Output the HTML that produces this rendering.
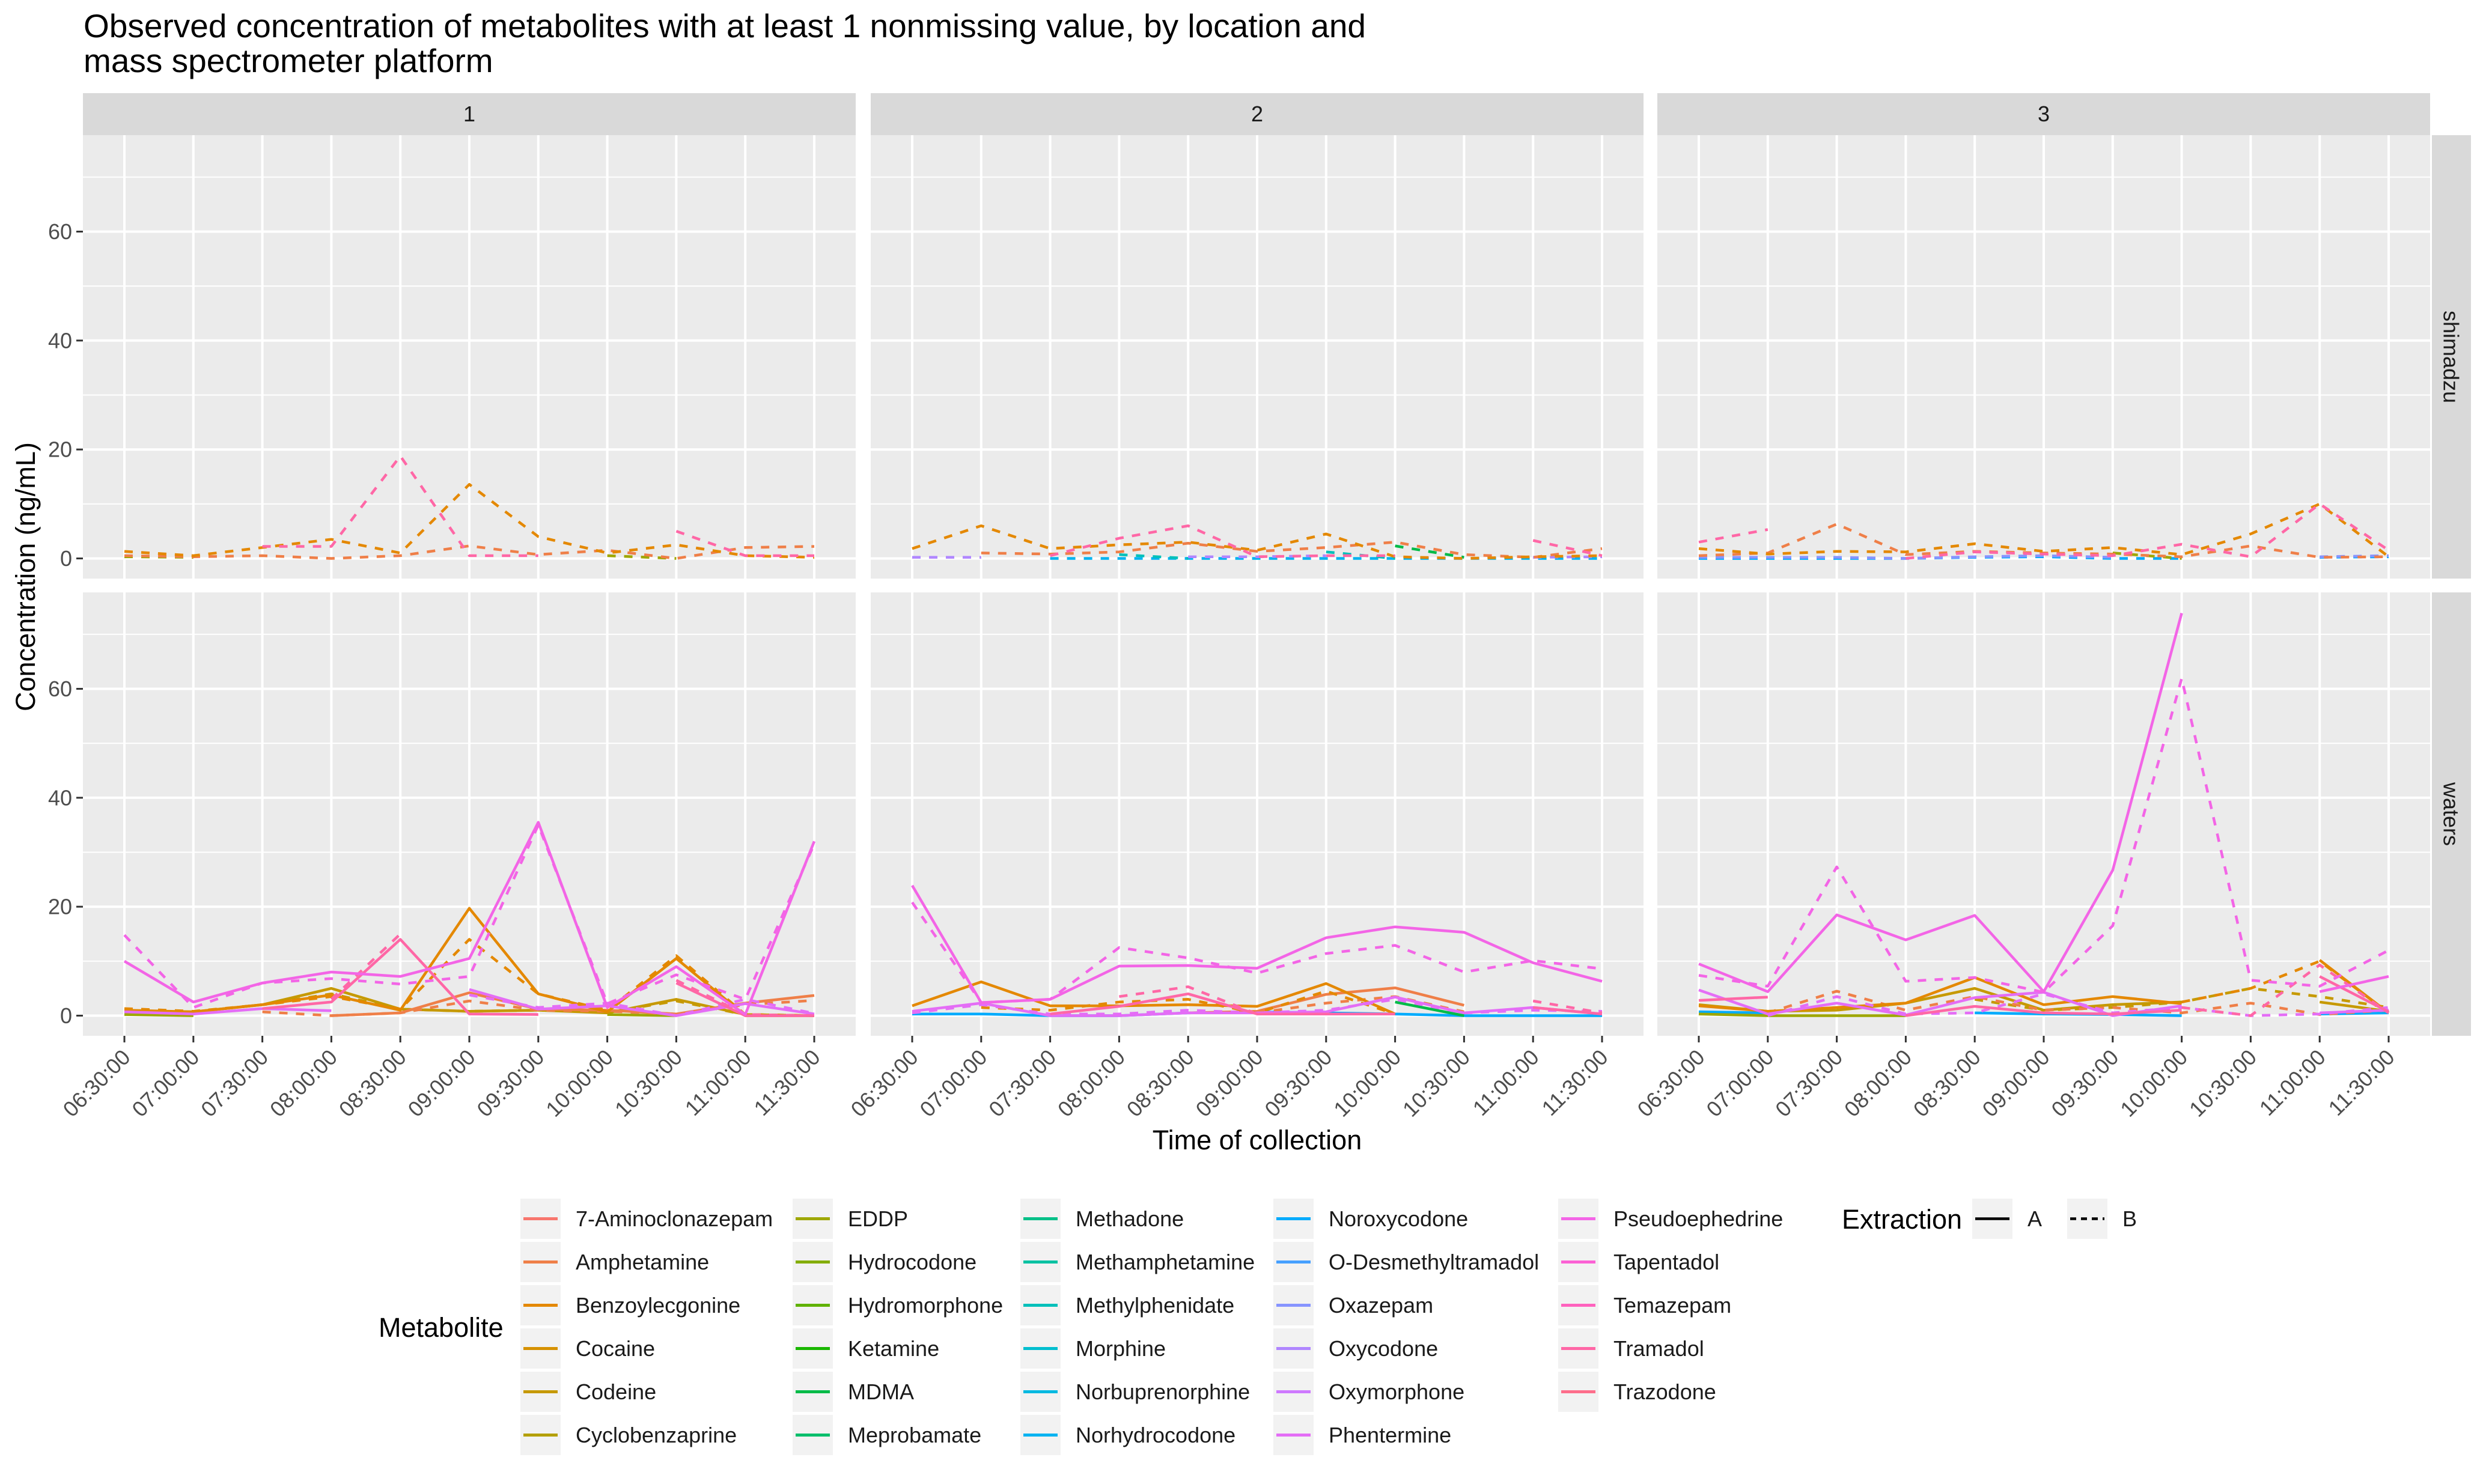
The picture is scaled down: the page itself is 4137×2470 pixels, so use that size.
<!DOCTYPE html>
<html><head><meta charset="utf-8">
<style>
html,body{margin:0;padding:0;background:#fff;}
svg{display:block;font-family:"Liberation Sans",Arial,sans-serif;}
</style></head>
<body>
<svg id="chart" width="4137" height="2470" viewBox="0 0 4137 2470" xmlns="http://www.w3.org/2000/svg">
<text x="139" y="62" font-size="55" fill="#000">Observed concentration of metabolites with at least 1 nonmissing value, by location and</text>
<text x="139" y="120" font-size="55" fill="#000">mass spectrometer platform</text>
<g id="plot"></g>
</svg>
<script>
// ---- categories ----
const times = ["06:30:00","07:00:00","07:30:00","08:00:00","08:30:00","09:00:00","09:30:00","10:00:00","10:30:00","11:00:00","11:30:00"];
const metabolites = ["7-Aminoclonazepam","Amphetamine","Benzoylecgonine","Cocaine","Codeine","Cyclobenzaprine","EDDP","Hydrocodone","Hydromorphone","Ketamine","MDMA","Meprobamate","Methadone","Methamphetamine","Methylphenidate","Morphine","Norbuprenorphine","Norhydrocodone","Noroxycodone","O-Desmethyltramadol","Oxazepam","Oxycodone","Oxymorphone","Phentermine","Pseudoephedrine","Tapentadol","Temazepam","Tramadol","Trazodone"];
const locations = ["1","2","3"];
const platforms = ["shimadzu","waters"];
const yTicks = [0,20,40,60];
const yMinor = [10,30,50,70];

// ---- series values (null = missing) ----
const s1_trama_B = [null,null,2.2,2.2,18.8,0.5,0.5,null,5,0.5,0.5];
const s1_benzo_B = [1.3,0.5,2,3.5,1,13.6,4,1,2.5,0.5,0.2];
const s1_amph_B = [0.5,0.3,0.5,0,0.5,2.3,0.7,1.5,0,2,2.2];
const s1_eddp_B = [0.3,0.2,null,null,null,null,null,0.5,0,null,null];
const w1_pseudo_A = [10,2.5,6,8,7.2,10.5,35.5,1.5,9,0.2,32];
const w1_pseudo_B = [14.8,1.5,6,6.8,5.8,7.2,35,2.2,7.5,3,31.5];
const w1_trama_A = [null,null,1.3,2.5,14,0.3,0.2,null,6,0,0];
const w1_trama_B = [null,null,null,3,15,null,null,null,6.5,0.2,0];
const w1_benzo_A = [1,0.7,2,3.8,1,19.7,4,0.7,10.5,0,0];
const w1_benzo_B = [1.3,0.8,2,3.5,1.2,14,4,1,11,0.2,0];
const w1_cod_A = [0.8,0.7,2,5,1.2,0.8,1,0.5,3,0.2,0];
const w1_cod_B = [0.9,0.7,2,4,1.2,0.8,1,0.6,2.7,0.2,0];
const w1_amph_A = [null,null,null,0,0.5,4.2,1.2,1,0.3,2.3,3.7];
const w1_amph_B = [null,null,0.7,0,0.5,2.7,1,0.8,0.3,2,2.8];
const w1_phent_A = [0.7,0.3,1.3,0.9,null,4.8,1.2,1.8,0,2.2,0.3];
const w1_phent_B = [null,null,null,null,null,3.8,1.5,2.3,0,3,0.4];
const w1_eddp_A = [0.2,0,null,null,null,null,null,0.2,0,null,null];
const s2_benzo_B = [1.8,6,1.8,2.5,3,1.5,4.5,0.3,0,0.3,0.5];
const s2_trama_B = [null,null,0.5,3.7,6,0.3,0.5,0.5,null,3.3,0.5];
const s2_amph_B = [null,1,0.8,1.2,2.8,1.3,2,3,0.7,0.2,1.8];
const s2_mdma_B = [null,null,null,null,null,null,null,2.3,0.2,null,null];
const s2_methyl_B = [null,null,null,0.7,0,null,1.2,0,null,null,null];
const s2_norhy_B = [null,null,0,0,0,0,0,0,0,0,0];
const s2_oxy_B = [0.2,0.2,null,null,0.3,0.3,0.5,null,null,0.2,0.3];
const w2_pseudo_A = [23.9,2.4,3,9.1,9.2,8.7,14.3,16.3,15.3,9.7,6.3];
const w2_pseudo_B = [20.8,2.4,3,12.5,10.6,7.8,11.4,12.9,8,10.1,8.6];
const w2_benzo_A = [1.8,6.2,1.8,1.8,2,1.7,5.9,0.3,null,null,null];
const w2_benzo_B = [null,1.5,1,2.5,3,0.5,4.5,0.3,null,null,null];
const w2_amph_A = [null,null,null,null,0.5,0.8,3.9,5.1,1.9,null,null];
const w2_amph_B = [null,null,null,null,null,0.5,2.3,3.5,0.7,null,2.5];
const w2_trama_A = [0.5,null,0.3,1.7,4,0.3,0.3,0.3,null,1.5,0.3];
const w2_trama_B = [null,null,null,3.5,5.3,0.3,null,null,null,2.7,0.5];
const w2_phent_A = [0.8,2.3,0,0,0.5,0.5,0.7,3.4,0.5,1.5,0.3];
const w2_phent_B = [0.5,2,0.3,0.3,1,0.5,1,3,0.5,1,0.8];
const w2_mdma_A = [null,null,null,null,null,null,null,2.5,0,null,null];
const w2_noroxy_A = [0.3,0.3,0,0,0.5,0.7,0.5,0.3,0,0,0];
const s3_trama_B = [3,5.3,null,0,1.2,0.8,0.5,2.6,0.3,10,1.5];
const s3_amph_B = [0.5,1,6.3,0.7,1.3,1,0.8,0.3,2.3,0.2,0.3];
const s3_benzo_B = [1.8,0.8,1.3,1.2,2.7,1.3,2,0.7,4.5,10,0.3];
const s3_eddp_B = [null,null,null,null,null,null,1,0,null,null,null];
const s3_noroxy_B = [0,0,0,0,0.2,0.3,0,0,null,0.2,0.3];
const s3_oxaz_B = [0.2,0.2,0.2,0,0.3,0.5,0.2,null,null,0.3,0.5];
const w3_pseudo_A = [9.5,4.4,18.5,13.9,18.4,4.4,26.7,73.9,null,4.4,7.2];
const w3_pseudo_B = [7.4,5.4,27.3,6.3,7,4.3,16.5,61.9,6.5,5.4,12];
const w3_benzo_A = [1.8,0.8,1.5,2.3,7,2,3.5,2.2,null,10.2,0.5];
const w3_benzo_B = [null,null,null,null,null,null,null,2.5,5,10,0.5];
const w3_cod_A = [2,0.8,1,2.3,5,1,2,2.5,null,2.5,0.8];
const w3_cod_B = [null,null,null,null,3,1,1.5,2.5,5,3.5,1.5];
const w3_amph_B = [null,0.5,4.5,1,3.5,1,1.5,0.5,2.3,0.2,1];
const w3_trama_A = [2.8,3.4,null,0,1.7,0.5,0.3,1,null,7.2,0.7];
const w3_trama_B = [null,null,null,null,null,null,null,1.5,0,9.3,0.5];
const w3_phent_A = [4.7,0.3,2.3,0.1,3.3,4.3,0,1.8,null,0.5,1];
const w3_phent_B = [null,0,3.5,0.3,0.5,4,0.5,1.5,0,0.3,1.5];
const w3_eddp_A = [0.3,0,0,0,null,null,null,null,null,null,null];
const w3_noroxy_A = [0.7,0.5,null,null,0.5,0.3,0.2,0,null,0.3,0.5];

const seriesList = [
 ["1","shimadzu","EDDP","B",s1_eddp_B],["1","shimadzu","Amphetamine","B",s1_amph_B],["1","shimadzu","Benzoylecgonine","B",s1_benzo_B],["1","shimadzu","Tramadol","B",s1_trama_B],
 ["1","waters","EDDP","A",w1_eddp_A],["1","waters","Codeine","A",w1_cod_A],["1","waters","Codeine","B",w1_cod_B],["1","waters","Amphetamine","A",w1_amph_A],["1","waters","Amphetamine","B",w1_amph_B],["1","waters","Benzoylecgonine","A",w1_benzo_A],["1","waters","Benzoylecgonine","B",w1_benzo_B],["1","waters","Phentermine","A",w1_phent_A],["1","waters","Phentermine","B",w1_phent_B],["1","waters","Tramadol","A",w1_trama_A],["1","waters","Tramadol","B",w1_trama_B],["1","waters","Pseudoephedrine","A",w1_pseudo_A],["1","waters","Pseudoephedrine","B",w1_pseudo_B],
 ["2","shimadzu","Norhydrocodone","B",s2_norhy_B],["2","shimadzu","Oxycodone","B",s2_oxy_B],["2","shimadzu","Methylphenidate","B",s2_methyl_B],["2","shimadzu","MDMA","B",s2_mdma_B],["2","shimadzu","Amphetamine","B",s2_amph_B],["2","shimadzu","Benzoylecgonine","B",s2_benzo_B],["2","shimadzu","Tramadol","B",s2_trama_B],
 ["2","waters","Noroxycodone","A",w2_noroxy_A],["2","waters","MDMA","A",w2_mdma_A],["2","waters","Amphetamine","A",w2_amph_A],["2","waters","Amphetamine","B",w2_amph_B],["2","waters","Benzoylecgonine","A",w2_benzo_A],["2","waters","Benzoylecgonine","B",w2_benzo_B],["2","waters","Phentermine","A",w2_phent_A],["2","waters","Phentermine","B",w2_phent_B],["2","waters","Tramadol","A",w2_trama_A],["2","waters","Tramadol","B",w2_trama_B],["2","waters","Pseudoephedrine","A",w2_pseudo_A],["2","waters","Pseudoephedrine","B",w2_pseudo_B],
 ["3","shimadzu","Noroxycodone","B",s3_noroxy_B],["3","shimadzu","Oxazepam","B",s3_oxaz_B],["3","shimadzu","EDDP","B",s3_eddp_B],["3","shimadzu","Amphetamine","B",s3_amph_B],["3","shimadzu","Benzoylecgonine","B",s3_benzo_B],["3","shimadzu","Tramadol","B",s3_trama_B],
 ["3","waters","Noroxycodone","A",w3_noroxy_A],["3","waters","EDDP","A",w3_eddp_A],["3","waters","Codeine","A",w3_cod_A],["3","waters","Codeine","B",w3_cod_B],["3","waters","Amphetamine","B",w3_amph_B],["3","waters","Benzoylecgonine","A",w3_benzo_A],["3","waters","Benzoylecgonine","B",w3_benzo_B],["3","waters","Phentermine","A",w3_phent_A],["3","waters","Phentermine","B",w3_phent_B],["3","waters","Tramadol","A",w3_trama_A],["3","waters","Tramadol","B",w3_trama_B],["3","waters","Pseudoephedrine","A",w3_pseudo_A],["3","waters","Pseudoephedrine","B",w3_pseudo_B]
];

function hcl(h,c,l){
  const hr=h*Math.PI/180, Xn=95.047,Yn=100,Zn=108.883;
  const un=4*Xn/(Xn+15*Yn+3*Zn), vn=9*Yn/(Xn+15*Yn+3*Zn);
  const u=c*Math.cos(hr), v=c*Math.sin(hr);
  const Y=Yn*Math.pow((l+16)/116,3);
  const up=u/(13*l)+un, vp=v/(13*l)+vn;
  const X=Y*9*up/(4*vp), Z=Y*(12-3*up-20*vp)/(4*vp);
  const x=X/100,y=Y/100,z=Z/100;
  let r=3.2404542*x-1.5371385*y-0.4985314*z, g=-0.9692660*x+1.8760108*y+0.0415560*z, b=0.0556434*x-0.2040259*y+1.0572252*z;
  const gm=t=>{t=t<=0.0031308?12.92*t:1.055*Math.pow(t,1/2.4)-0.055;return Math.round(Math.max(0,Math.min(1,t))*255);};
  return "rgb("+gm(r)+","+gm(g)+","+gm(b)+")";
}
const colorOf={};
metabolites.forEach((m,i)=>{colorOf[m]=hcl(15+i*360/metabolites.length,100,65);});

const NS="http://www.w3.org/2000/svg";
const root=document.getElementById("plot");
const panelX=[138,1449,2758], panelW=1286;
const rowY={shimadzu:225, waters:986}, panelH=738;
const yMin=-3.7, yMax=77.7;
function xPos(p,i){return panelX[p]+69+i*(panelW-138)/(times.length-1);}
function yPos(plat,v){return rowY[plat]+(yMax-v)/(yMax-yMin)*panelH;}
function mk(tag,attrs,parent){const e=document.createElementNS(NS,tag);for(const k in attrs)e.setAttribute(k,attrs[k]);(parent||root).appendChild(e);return e;}

locations.forEach((loc,p)=>{
  const s=mk("rect",{x:panelX[p],y:155,width:panelW,height:70,fill:"#D9D9D9"});
  
  
  const t=mk("text",{x:panelX[p]+panelW/2,y:202,"font-size":36,fill:"#1A1A1A","text-anchor":"middle"});
  t.textContent=loc;
  
  
});
platforms.forEach(plat=>{
  const s=mk("rect",{x:4047,y:rowY[plat],width:65,height:panelH,fill:"#D9D9D9"});
  
  
  const cy=rowY[plat]+panelH/2;
  const t=mk("text",{x:4079,y:cy,"font-size":36,fill:"#1A1A1A","text-anchor":"middle","dominant-baseline":"central",transform:"rotate(90 4079 "+cy+")"});
  t.textContent=plat;
  
  
});

platforms.forEach(plat=>{
  locations.forEach((loc,p)=>{
    const g=mk("g",{});
    
    
    mk("rect",{x:panelX[p],y:rowY[plat],width:panelW,height:panelH,fill:"#EBEBEB"},g);
    yMinor.forEach(v=>mk("line",{x1:panelX[p],x2:panelX[p]+panelW,y1:yPos(plat,v),y2:yPos(plat,v),stroke:"#fff","stroke-width":2},g));
    yTicks.forEach(v=>mk("line",{x1:panelX[p],x2:panelX[p]+panelW,y1:yPos(plat,v),y2:yPos(plat,v),stroke:"#fff","stroke-width":4},g));
    times.forEach((t,i)=>mk("line",{x1:xPos(p,i),x2:xPos(p,i),y1:rowY[plat],y2:rowY[plat]+panelH,stroke:"#fff","stroke-width":4},g));
  });
});

seriesList.forEach(s=>{
  const [loc,plat,met,ext,vals]=s;
  const p=locations.indexOf(loc);
  let d="",pen=false;
  vals.forEach((v,i)=>{
    if(v===null){pen=false;return;}
    d+=(pen?"L":"M")+xPos(p,i).toFixed(1)+" "+yPos(plat,v).toFixed(1)+" ";
    pen=true;
  });
  const path=mk("path",{d:d,fill:"none",stroke:colorOf[met],"stroke-width":4.5,"stroke-linejoin":"round"});
  if(ext==="B")path.setAttribute("stroke-dasharray","14 14");
  
  
});

platforms.forEach(plat=>{
  yTicks.forEach(v=>{
    const y=yPos(plat,v);
    mk("line",{x1:127,x2:138,y1:y,y2:y,stroke:"#333","stroke-width":3});
    const t=mk("text",{x:120,y:y,"font-size":36,fill:"#4D4D4D","text-anchor":"end","dominant-baseline":"central"});
    t.textContent=v;
    
    
  });
});
locations.forEach((loc,p)=>{
  times.forEach((tm,i)=>{
    const x=xPos(p,i);
    mk("line",{x1:x,x2:x,y1:1724,y2:1735,stroke:"#333","stroke-width":3});
    const ax=x+12, ay=1762;
    const t=mk("text",{x:ax,y:ay,"font-size":36,fill:"#4D4D4D","text-anchor":"end",transform:"rotate(-45 "+ax+" "+ay+")"});
    t.textContent=tm;
    
    
  });
});
{
  const t=mk("text",{x:2092,y:1913,"font-size":45,fill:"#000","text-anchor":"middle"});
  t.textContent="Time of collection";
  
  
  const t2=mk("text",{x:58,y:960,"font-size":45,fill:"#000","text-anchor":"middle",transform:"rotate(-90 58 960)"});
  t2.textContent="Concentration (ng/mL)";
  
  
}

{
  const lt=mk("text",{x:630,y:2225,"font-size":45,fill:"#000"});
  lt.textContent="Metabolite";
  
  
  const colKeyX=[866,1319,1698,2119,2593];
  metabolites.forEach((m,i)=>{
    const c=Math.floor(i/6), r=i%6;
    const kx=colKeyX[c], ky=1995+r*72;
    const g=mk("g",{});
    
    
    mk("rect",{x:kx,y:ky,width:67,height:67,fill:"#F2F2F2"},g);
    mk("line",{x1:kx+5,x2:kx+62,y1:ky+33.5,y2:ky+33.5,stroke:colorOf[m],"stroke-width":5},g);
    const t=mk("text",{x:kx+92,y:ky+33.5,"font-size":36,fill:"#1A1A1A","dominant-baseline":"central"},g);
    t.textContent=m;
  });
}
{
  const lt=mk("text",{x:3065,y:2045,"font-size":45,fill:"#000"});
  lt.textContent="Extraction";
  
  
  [["A",3282,null],["B",3440,"10 8"]].forEach(([lab,kx,dash])=>{
    const g=mk("g",{});
    
    
    mk("rect",{x:kx,y:1995,width:67,height:67,fill:"#F2F2F2"},g);
    const l=mk("line",{x1:kx+5,x2:kx+62,y1:2028.5,y2:2028.5,stroke:"#000","stroke-width":4.5},g);
    if(dash)l.setAttribute("stroke-dasharray",dash);
    const t=mk("text",{x:kx+92,y:2028.5,"font-size":36,fill:"#1A1A1A","dominant-baseline":"central"},g);
    t.textContent=lab;
  });
}
</script>
</body></html>
